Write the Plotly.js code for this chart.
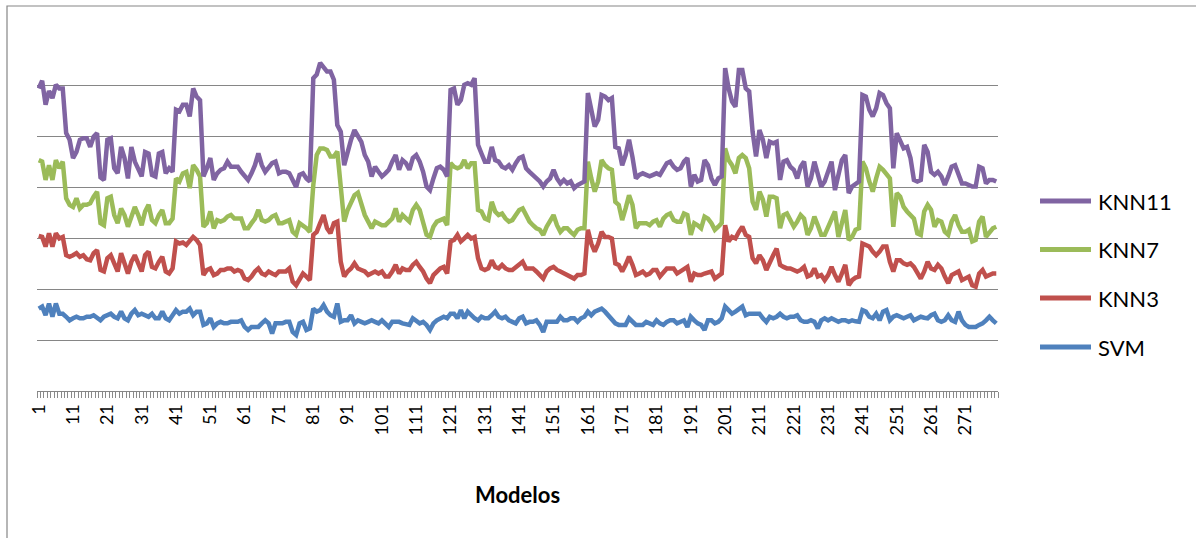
<!DOCTYPE html>
<html>
<head>
<meta charset="utf-8">
<script src="https://cdn.plot.ly/plotly-3.0.1.min.js"></script>
<style>
html, body { margin: 0; padding: 0; background: #ffffff; }
#chart { width: 1196px; height: 538px; }
</style>
</head>
<body>
<div id="chart"></div>
<script>
// Categories: model numbers 1..280
const modelos = Array.from({ length: 280 }, (_, i) => i + 1);

const knn11 = [
  5.95, 6.1, 5.63, 5.9, 5.76, 6.02, 5.95, 5.95, 5.07, 4.94,
  4.58, 4.7, 4.94, 4.97, 4.97, 4.8, 5.0, 5.07, 4.2, 4.15,
  4.94, 4.97, 4.38, 4.28, 4.8, 4.58, 4.18, 4.8, 4.51, 4.35,
  4.22, 4.7, 4.67, 4.25, 4.22, 4.67, 4.7, 4.28, 4.38, 4.31,
  5.53, 5.5, 5.63, 5.63, 5.4, 5.95, 5.79, 5.72, 4.22, 4.38,
  4.58, 4.15, 4.28, 4.35, 4.38, 4.51, 4.41, 4.41, 4.41, 4.31,
  4.22, 4.15, 4.28, 4.44, 4.67, 4.44, 4.31, 4.38, 4.48, 4.51,
  4.28, 4.31, 4.31, 4.28, 4.15, 4.01, 4.25, 4.28, 4.18, 4.12,
  6.15, 6.22, 6.45, 6.38, 6.28, 6.28, 6.12, 5.23, 5.1, 4.44,
  4.7, 4.94, 5.13, 5.0, 4.9, 4.64, 4.51, 4.22, 4.41, 4.31,
  4.22, 4.28, 4.35, 4.51, 4.64, 4.35, 4.54, 4.48, 4.35, 4.58,
  4.64, 4.51, 4.31, 4.02, 3.95, 4.18, 4.38, 4.41, 4.35, 4.22,
  5.92, 5.95, 5.63, 5.72, 6.02, 6.05, 6.02, 6.15, 4.84, 4.67,
  4.51, 4.51, 4.8, 4.54, 4.51, 4.41, 4.38, 4.44, 4.35, 4.48,
  4.58, 4.61, 4.38, 4.31, 4.25, 4.18, 4.12, 4.02, 4.12, 4.18,
  4.35, 4.18, 4.08, 4.15, 4.08, 4.12, 3.99, 4.05, 4.08, 4.12,
  5.86, 5.53, 5.2, 5.33, 5.82, 5.79, 5.72, 5.76, 4.8, 4.77,
  4.44, 4.64, 4.94, 4.6, 4.18, 4.25, 4.28, 4.25, 4.22, 4.25,
  4.28, 4.25, 4.38, 4.48, 4.51, 4.41, 4.35, 4.38, 4.51, 4.58,
  4.02, 4.25, 4.12, 4.15, 4.54, 4.44, 4.18, 4.05, 4.18, 4.22,
  6.35, 5.95, 5.69, 5.59, 6.31, 6.31, 5.95, 5.89, 5.1, 4.61,
  5.13, 4.94, 4.58, 4.9, 4.87, 4.9, 4.15, 4.51, 4.54, 4.41,
  4.35, 4.18, 4.41, 4.51, 4.02, 4.18, 4.51, 4.28, 4.02, 4.12,
  4.35, 4.51, 3.95, 4.22, 4.54, 4.64, 3.89, 4.02, 4.08, 4.12,
  5.82, 5.79, 5.53, 5.4, 5.56, 5.86, 5.82, 5.66, 5.56, 4.38,
  5.07, 4.94, 4.77, 4.8, 4.58, 4.15, 4.12, 4.15, 4.84, 4.7,
  4.31, 4.25, 4.31, 4.22, 4.05, 4.22, 4.41, 4.44, 4.25, 4.08,
  4.08, 4.05, 4.02, 4.02, 4.41, 4.38, 4.08, 4.15, 4.15, 4.12
];

const knn7 = [
  4.54, 4.51, 4.15, 4.44, 4.15, 4.54, 4.38, 4.51, 3.79, 3.66,
  3.62, 3.79, 3.59, 3.66, 3.66, 3.69, 3.82, 3.92, 3.3, 3.26,
  3.79, 3.82, 3.46, 3.3, 3.59, 3.46, 3.23, 3.46, 3.62, 3.46,
  3.26, 3.53, 3.66, 3.36, 3.3, 3.46, 3.56, 3.3, 3.3, 3.39,
  4.18, 4.12, 4.28, 4.31, 3.99, 4.44, 4.35, 4.22, 3.23, 3.3,
  3.53, 3.2, 3.36, 3.33, 3.36, 3.43, 3.46, 3.39, 3.39, 3.39,
  3.2, 3.2, 3.3, 3.39, 3.56, 3.36, 3.33, 3.36, 3.43, 3.46,
  3.3, 3.3, 3.33, 3.36, 3.13, 3.07, 3.3, 3.26, 3.2, 3.13,
  4.05, 4.64, 4.77, 4.77, 4.74, 4.61, 4.61, 4.71, 3.99, 3.33,
  3.56, 3.69, 3.85, 3.9, 3.7, 3.46, 3.33, 3.2, 3.33, 3.3,
  3.26, 3.26, 3.33, 3.39, 3.59, 3.33, 3.46, 3.39, 3.33, 3.56,
  3.66, 3.56, 3.3, 3.07, 3.03, 3.23, 3.33, 3.36, 3.39, 3.26,
  4.48, 4.41, 4.38, 4.41, 4.54, 4.38, 4.48, 4.48, 3.56, 3.53,
  3.39, 3.36, 3.72, 3.53, 3.46, 3.49, 3.39, 3.33, 3.36, 3.46,
  3.56, 3.59, 3.46, 3.33, 3.26, 3.2, 3.17, 3.07, 3.23, 3.33,
  3.46, 3.26, 3.13, 3.2, 3.2, 3.13, 3.07, 3.17, 3.2, 3.2,
  4.51, 4.18, 3.92, 4.12, 4.54, 4.44, 4.38, 4.35, 3.72, 3.66,
  3.36, 3.59, 3.85, 3.66, 3.2, 3.3, 3.3, 3.3, 3.26, 3.33,
  3.36, 3.23, 3.39, 3.46, 3.49, 3.36, 3.33, 3.33, 3.49, 3.46,
  3.07, 3.3, 3.26, 3.2, 3.43, 3.39, 3.3, 3.17, 3.23, 3.3,
  4.77, 4.54, 4.44, 4.28, 4.58, 4.64, 4.58, 4.38, 3.72, 3.56,
  3.92, 3.76, 3.43, 3.82, 3.82, 3.79, 3.2, 3.46, 3.49, 3.36,
  3.23, 3.33, 3.46, 3.39, 3.07, 3.2, 3.43, 3.26, 3.07, 3.07,
  3.23, 3.39, 3.53, 3.03, 3.3, 3.56, 2.97, 3.03, 3.17, 3.2,
  4.51, 4.38, 4.12, 3.92, 4.18, 4.41, 4.35, 4.28, 4.18, 3.23,
  3.89, 3.82, 3.62, 3.53, 3.46, 3.39, 3.1, 3.07, 3.53, 3.66,
  3.56, 3.23, 3.36, 3.33, 3.13, 3.07, 3.33, 3.46, 3.26, 3.13,
  3.13, 3.17, 2.94, 2.97, 3.33, 3.43, 3.03, 3.1, 3.2, 3.23
];

const knn3 = [
  3.05, 3.03, 2.84, 3.1, 2.84, 3.1, 3.0, 3.03, 2.67, 2.64,
  2.67, 2.71, 2.64, 2.67, 2.59, 2.57, 2.71, 2.77, 2.38, 2.35,
  2.61, 2.67, 2.51, 2.35, 2.71, 2.51, 2.31, 2.54, 2.67, 2.51,
  2.35, 2.67, 2.74, 2.44, 2.41, 2.54, 2.64, 2.35, 2.31, 2.41,
  2.94, 2.9, 2.92, 2.87, 2.94, 3.03, 2.97, 2.87, 2.28, 2.38,
  2.41, 2.28, 2.31, 2.38, 2.38, 2.41, 2.41, 2.35, 2.38, 2.35,
  2.21, 2.18, 2.25, 2.35, 2.41, 2.31, 2.28, 2.35, 2.31, 2.28,
  2.35, 2.35, 2.35, 2.41, 2.15, 2.08, 2.21, 2.31, 2.25, 2.18,
  3.07, 3.13, 3.3, 3.46, 3.2, 3.1, 3.3, 3.33, 2.54, 2.25,
  2.35, 2.41, 2.51, 2.41, 2.38, 2.35, 2.28, 2.31, 2.35, 2.31,
  2.35, 2.25, 2.25, 2.35, 2.48, 2.31, 2.41, 2.38, 2.38, 2.48,
  2.54, 2.44, 2.35, 2.21, 2.12, 2.28, 2.35, 2.41, 2.44, 2.31,
  2.94, 2.97, 3.07, 2.94, 3.0, 3.07, 3.0, 3.03, 2.61, 2.41,
  2.38, 2.41, 2.57, 2.44, 2.41, 2.48, 2.41, 2.38, 2.38, 2.44,
  2.48, 2.54, 2.41, 2.41, 2.41, 2.35, 2.28, 2.21, 2.35, 2.41,
  2.44, 2.38, 2.35, 2.31, 2.28, 2.25, 2.21, 2.28, 2.28, 2.31,
  3.17, 2.9, 2.74, 2.9, 3.13, 3.03, 3.03, 3.0, 2.51, 2.48,
  2.35, 2.48, 2.64, 2.48, 2.28, 2.31, 2.35, 2.28, 2.31, 2.38,
  2.38, 2.25, 2.35, 2.41, 2.41, 2.41, 2.31, 2.35, 2.41, 2.44,
  2.15, 2.31, 2.28, 2.28, 2.31, 2.33, 2.35, 2.21, 2.25, 2.31,
  3.26, 2.94, 3.03, 3.0, 3.13, 3.23, 3.07, 3.03, 2.61, 2.51,
  2.67, 2.57, 2.38, 2.54, 2.67, 2.8, 2.48, 2.44, 2.41, 2.41,
  2.38, 2.35, 2.38, 2.44, 2.25, 2.28, 2.41, 2.25, 2.28, 2.18,
  2.28, 2.44, 2.28, 2.15, 2.31, 2.48, 2.08, 2.18, 2.23, 2.25,
  2.9, 2.88, 2.84, 2.74, 2.67, 2.74, 2.84, 2.84, 2.54, 2.35,
  2.57, 2.57, 2.51, 2.48, 2.51, 2.44, 2.31, 2.21, 2.35, 2.54,
  2.41, 2.38, 2.48, 2.41, 2.25, 2.12, 2.28, 2.31, 2.35, 2.18,
  2.21, 2.25, 2.08, 2.05, 2.31, 2.38, 2.25, 2.28, 2.31, 2.31
];

const svm = [
  1.62, 1.66, 1.49, 1.72, 1.46, 1.72, 1.52, 1.52, 1.46, 1.39,
  1.43, 1.46, 1.43, 1.43, 1.46, 1.46, 1.49, 1.43, 1.39, 1.46,
  1.49, 1.52, 1.46, 1.43, 1.56, 1.43, 1.39, 1.52, 1.59, 1.49,
  1.52, 1.49, 1.46, 1.52, 1.43, 1.43, 1.56, 1.43, 1.39, 1.49,
  1.59, 1.52, 1.56, 1.56, 1.62, 1.49, 1.56, 1.56, 1.3, 1.33,
  1.43, 1.26, 1.33, 1.36, 1.33, 1.33, 1.36, 1.36, 1.36, 1.39,
  1.26, 1.2, 1.26, 1.26, 1.26, 1.33, 1.39, 1.33, 1.13, 1.33,
  1.33, 1.33, 1.36, 1.36, 1.16, 1.1, 1.33, 1.36, 1.2, 1.23,
  1.62, 1.56, 1.59, 1.69, 1.56, 1.49, 1.46, 1.72, 1.36, 1.39,
  1.39, 1.49, 1.33, 1.39, 1.36, 1.33, 1.36, 1.39, 1.36, 1.33,
  1.39, 1.33, 1.26, 1.36, 1.36, 1.36, 1.33, 1.31, 1.3, 1.43,
  1.39, 1.33, 1.36, 1.3, 1.2, 1.33, 1.39, 1.43, 1.46, 1.43,
  1.52, 1.52, 1.43, 1.59, 1.43, 1.56, 1.49, 1.43, 1.39, 1.46,
  1.43, 1.43, 1.49, 1.56, 1.46, 1.43, 1.46, 1.39, 1.36, 1.33,
  1.43, 1.46, 1.33, 1.36, 1.36, 1.39, 1.3, 1.16, 1.36, 1.36,
  1.36, 1.36, 1.46, 1.39, 1.39, 1.43, 1.43, 1.36, 1.43, 1.46,
  1.56, 1.49, 1.56, 1.59, 1.62, 1.56, 1.49, 1.39, 1.33, 1.3,
  1.3, 1.3, 1.43, 1.36, 1.3, 1.3, 1.3, 1.36, 1.33, 1.3,
  1.39, 1.33, 1.3, 1.36, 1.39, 1.39, 1.33, 1.36, 1.39, 1.26,
  1.46, 1.39, 1.33, 1.3, 1.2, 1.39, 1.39, 1.33, 1.36, 1.43,
  1.66, 1.59, 1.52, 1.56, 1.62, 1.66, 1.49, 1.52, 1.52, 1.52,
  1.52, 1.43, 1.36, 1.46, 1.43, 1.46, 1.52, 1.46, 1.43, 1.46,
  1.46, 1.49, 1.39, 1.36, 1.36, 1.39, 1.36, 1.23, 1.39, 1.43,
  1.39, 1.43, 1.39, 1.36, 1.39, 1.39, 1.36, 1.39, 1.37, 1.36,
  1.59, 1.56, 1.46, 1.43, 1.52, 1.39, 1.56, 1.59, 1.39, 1.46,
  1.49, 1.46, 1.43, 1.46, 1.49, 1.39, 1.43, 1.46, 1.44, 1.43,
  1.49, 1.52, 1.39, 1.36, 1.39, 1.49, 1.39, 1.36, 1.56, 1.39,
  1.3, 1.26, 1.26, 1.26, 1.3, 1.33, 1.39, 1.46, 1.39, 1.33
];

const tickValues = [1, 11, 21, 31, 41, 51, 61, 71, 81, 91, 101, 111, 121, 131, 141,
  151, 161, 171, 181, 191, 201, 211, 221, 231, 241, 251, 261, 271];
const tickLabels = ['1', '11', '21', '31', '41', '51', '61', '71', '81', '91', '101', '111',
  '121', '131', '141', '151', '161', '171', '181', '191', '201', '211', '221', '231',
  '241', '251', '261', '271'];

const seriesNames = ['KNN11', 'KNN7', 'KNN3', 'SVM'];
const seriesColors = ['#8064A2', '#9BBB59', '#C0504D', '#4F81BD'];
const seriesData = [knn11, knn7, knn3, svm];

// Plot geometry (pixels)
const W = 1196, H = 538;
const L = 37, R = 998, T = 35, B = 391;
const px = x => (x - L) / (R - L);
const py = y => (B - y) / (B - T);

const FONT = 'Lato, "Liberation Sans", "DejaVu Sans", sans-serif';

// draw SVM first so KNN11 is on top
const traces = [];
for (let k = seriesData.length - 1; k >= 0; k--) {
  traces.push({
    type: 'scatter',
    mode: 'lines',
    name: seriesNames[k],
    x: modelos,
    y: seriesData[k],
    line: { color: seriesColors[k], width: 4.5 },
    hoverinfo: 'x+y+name'
  });
}

const legendY = [201, 249.5, 298, 347];
const shapes = [
  {
    type: 'rect', xref: 'paper', yref: 'paper',
    x0: px(7), x1: px(1215), y0: py(560), y1: py(6),
    line: { color: '#868686', width: 1.2 }, fillcolor: 'rgba(0,0,0,0)', layer: 'below'
  }
];
const annotations = [
  {
    xref: 'paper', yref: 'paper', x: 0.5, y: py(494),
    xanchor: 'center', yanchor: 'middle', showarrow: false,
    text: '<b>Modelos</b>', font: { family: FONT, size: 22, color: '#000' }
  }
];
seriesNames.forEach((name, i) => {
  shapes.push({
    type: 'line', xref: 'paper', yref: 'paper',
    x0: px(1040), x1: px(1091), y0: py(legendY[i]), y1: py(legendY[i]),
    line: { color: seriesColors[i], width: 5 }
  });
  annotations.push({
    xref: 'paper', yref: 'paper', x: px(1096), y: py(legendY[i]),
    xanchor: 'left', yanchor: 'middle', showarrow: false,
    text: name, font: { family: FONT, size: 22, color: '#000' }
  });
});

const layout = {
  width: W, height: H,
  margin: { l: L, r: W - R, t: T, b: H - B, pad: 0 },
  paper_bgcolor: '#ffffff', plot_bgcolor: '#ffffff',
  showlegend: false,
  font: { family: FONT, color: '#000' },
  xaxis: {
    type: 'linear', range: [0.5, 280.5],
    tickmode: 'array', tickvals: tickValues, ticktext: tickLabels,
    tickangle: -90, ticks: 'outside', ticklen: 5, tickcolor: 'rgba(0,0,0,0)',
    tickfont: { family: FONT, size: 18, color: '#000' },
    showgrid: false, zeroline: false,
    showline: true, linecolor: '#868686', linewidth: 1,
    minor: { ticks: 'outside', tick0: 0.5, dtick: 1, ticklen: 6, tickwidth: 1, tickcolor: '#8a8a8a', showgrid: false },
    fixedrange: true
  },
  yaxis: {
    range: [0, 7], tick0: 0, dtick: 1,
    showticklabels: false, ticks: '',
    showgrid: true, gridcolor: '#868686', gridwidth: 1,
    zeroline: false, showline: false, fixedrange: true
  },
  shapes: shapes,
  annotations: annotations
};

Plotly.newPlot('chart', traces, layout, { displayModeBar: false, staticPlot: true });
</script>
</body>
</html>
